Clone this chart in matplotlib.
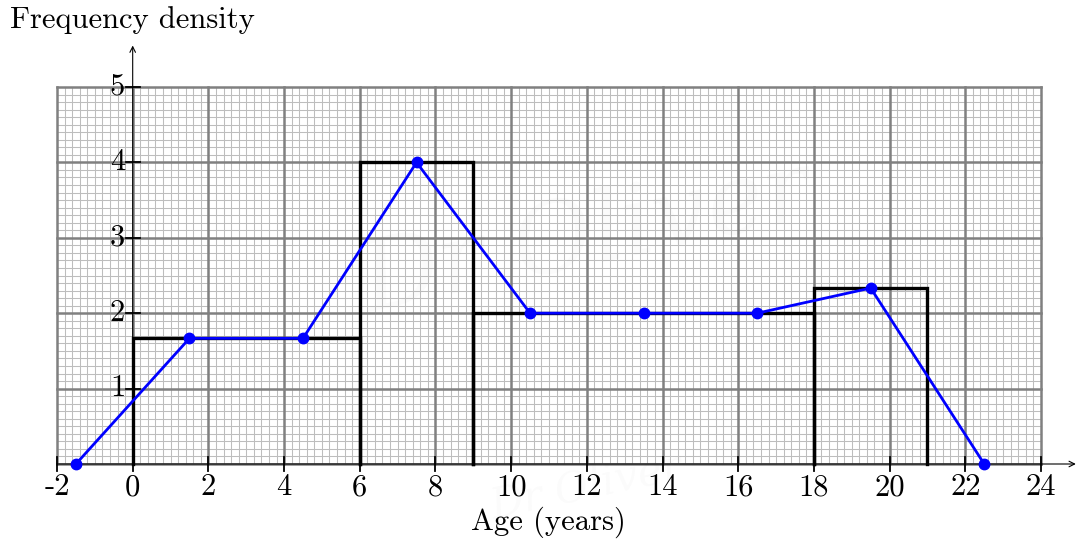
import numpy as np
import matplotlib.pyplot as plt

# histogram classes (age in years) and frequency densities
class_edges = [0, 6, 9, 18, 21]
densities = [5 / 3, 4, 2, 7 / 3]

# frequency polygon points
poly_x = [-1.5, 1.5, 4.5, 7.5, 10.5, 13.5, 16.5, 19.5, 22.5]
poly_y = [0, 5 / 3, 5 / 3, 4, 2, 2, 2, 7 / 3, 0]

x_ticks = list(range(-2, 25, 2))
y_ticks = [1, 2, 3, 4, 5]

FONT = 'cmr10'
FS = 22

fig = plt.figure(figsize=(10.76, 5.44), dpi=100)
ax = fig.add_axes([0, 0, 1, 1])

# pixel mapping: x=-2 -> 57px, x=24 -> 1041px ; y=0 -> 464px, y=5 -> 87px
sx = (1041 - 57) / 26
sy = (464 - 87) / 5
ax.set_xlim(-2 - 57 / sx, -2 + (1076 - 57) / sx)
ax.set_ylim(-(544 - 464) / sy, 464 / sy)
ax.axis('off')

# graph paper
for x in np.arange(-2, 24.001, 0.2):
    ax.plot([x, x], [0, 5], color='#bdbdbd', lw=0.75, zorder=1)
for y in np.arange(0, 5.001, 0.1):
    ax.plot([-2, 24], [y, y], color='#bdbdbd', lw=0.75, zorder=1)
for x in range(-2, 25, 2):
    ax.plot([x, x], [0, 5], color='#808080', lw=1.8, zorder=2)
for y in range(0, 6):
    ax.plot([-2, 24], [y, y], color='#808080', lw=1.8, zorder=2)

# faint watermark
for (wx, wy, ws) in [(12.0, 3.0, 70), (12.0, -0.3, 30)]:
    ax.text(wx, wy, 'Dr Oliver', fontsize=ws, fontstyle='italic', family='DejaVu Serif',
            color='#000000', alpha=0.018, ha='center', va='center', rotation=12, zorder=2.5)

# axes with arrows
ax.annotate('', xy=(24.92, 0), xytext=(-2, 0),
            arrowprops=dict(arrowstyle='->', color='black', lw=0.8, shrinkA=0, shrinkB=0), zorder=3)
ax.annotate('', xy=(0, 5.55), xytext=(0, 0),
            arrowprops=dict(arrowstyle='->', color='black', lw=0.8, shrinkA=0, shrinkB=0), zorder=3)

# ticks and labels
for x in x_ticks:
    ax.plot([x, x], [-0.09, 0.09], color='black', lw=1.3, zorder=3)
    ax.text(x, -0.13, str(x), family=FONT, fontsize=FS, ha='center', va='top', zorder=4)
for y in y_ticks:
    ax.plot([-0.18, 0.18], [y, y], color='black', lw=1.3, zorder=3)
    ax.text(-0.2, y, str(y), family=FONT, fontsize=FS, ha='right', va='center', zorder=4)

# histogram bars
for i in range(len(densities)):
    x0, x1 = class_edges[i], class_edges[i + 1]
    h = densities[i]
    ax.plot([x0, x0, x1, x1], [0, h, h, 0], color='black', lw=2.4,
            solid_joinstyle='miter', zorder=5)

# frequency polygon
ax.plot(poly_x, poly_y, color='#0000ff', lw=2.0, marker='o', markersize=7.5, zorder=6)

# titles
fig.text(10 / 1076, 1 - 20 / 544, 'Frequency density', family=FONT, fontsize=FS,
         ha='left', va='center')
fig.text(548 / 1076, 1 - 522 / 544, 'Age (years)', family=FONT, fontsize=FS,
         ha='center', va='center')

fig.savefig('out.png', dpi=100)
